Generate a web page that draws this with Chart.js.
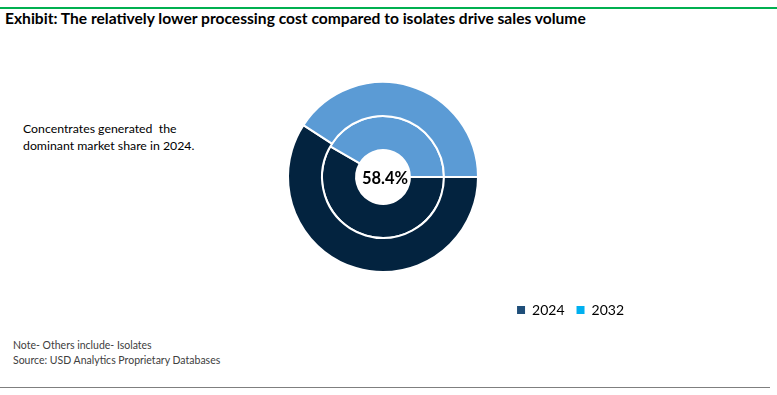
<!DOCTYPE html>
<html>
<head>
<meta charset="utf-8">
<script src="https://cdn.jsdelivr.net/npm/chart.js@4"></script>
<style>
    body { margin: 0; width: 777px; height: 395px; background: #fff; font-family: Lato, "Open Sans", sans-serif; position: relative; overflow: hidden; }
    .topline { position: absolute; left: 0; top: 7px; width: 777px; height: 2px; background: #00b050; }
    .title { position: absolute; left: 5px; top: 9px; font-size: 15.6px; font-weight: bold; color: #000; }
    .note { position: absolute; left: 23px; top: 120px; font-size: 12.3px; line-height: 17px; color: #000; }
    .source { position: absolute; left: 13px; top: 338px; font-size: 10.5px; line-height: 15px; color: #404040; }
    .bottomline { position: absolute; left: 0; top: 387px; width: 770px; height: 1px; background: #7f7f7f; }
    #wrap { position: absolute; left: 130px; top: 63px; width: 506px; height: 264px; }
</style>
</head>
<body>
<div class="topline"></div>
<div class="title">Exhibit: The relatively lower processing cost compared to isolates drive sales volume</div>
<div class="note">Concentrates generated&nbsp; the<br>dominant market share in 2024.</div>
<div class="source">Note- Others include- Isolates<br>Source: USD Analytics Proprietary Databases</div>
<div class="bottomline"></div>
<div id="wrap"><canvas id="donut"></canvas></div>
<script>
    // Share values (%)
    const segments = ['Concentrates', 'Others'];
    const years = ['2024', '2032'];
    const share2024 = [58.4, 41.6];
    const share2032 = [59.2, 40.8];
    const centerLabel = '58.4%';

    const arcColors = ['#03233f', '#5b9bd5'];
    const legendColors = ['#1f4e79', '#00b0f0'];

    // Write the 2024 share in the middle hole
    const centerText = {
        id: 'centerText',
        afterDraw(chart) {
            const meta = chart.getDatasetMeta(0);
            const arc = meta.data[0];
            const c = chart.ctx;
            c.save();
            c.font = 'bold 16.5px Lato, sans-serif';
            c.fillStyle = '#000';
            c.textAlign = 'center';
            c.textBaseline = 'middle';
            c.fillText(centerLabel, arc.x + 2, arc.y + 2);
            c.restore();
        }
    };

    new Chart(document.getElementById('donut'), {
        type: 'doughnut',
        data: {
            labels: segments,
            datasets: [
                // first dataset is the outer ring
                { label: years[1], data: share2032, backgroundColor: arcColors, borderColor: '#fff', borderWidth: 2 },
                { label: years[0], data: share2024, backgroundColor: arcColors, borderColor: '#fff', borderWidth: 2 }
            ]
        },
        options: {
            responsive: true,
            maintainAspectRatio: false,
            animation: false,
            rotation: 90,
            radius: 95,
            cutout: 32,
            plugins: {
                legend: {
                    position: 'bottom',
                    align: 'end',
                    labels: {
                        boxWidth: 8,
                        boxHeight: 8,
                        padding: 12,
                        color: '#595959',
                        font: { family: 'Lato, sans-serif', size: 14 },
                        generateLabels: () => years.map((y, i) => ({
                            text: y,
                            fillStyle: legendColors[i],
                            strokeStyle: legendColors[i],
                            lineWidth: 0,
                            datasetIndex: i
                        }))
                    }
                },
                tooltip: { enabled: false }
            }
        },
        plugins: [centerText]
    });
</script>
</body>
</html>
